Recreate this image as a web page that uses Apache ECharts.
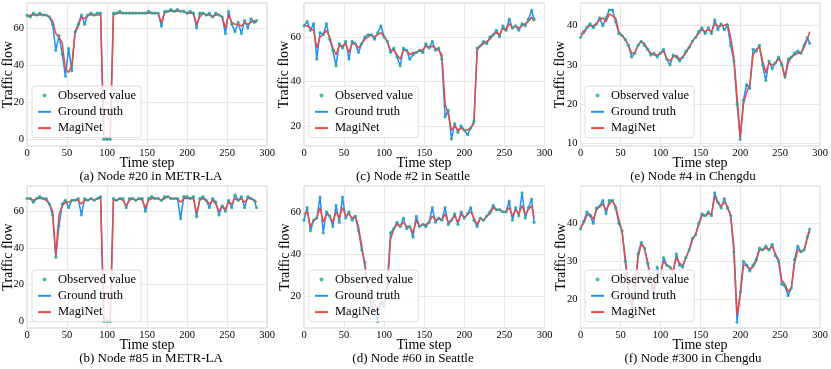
<!DOCTYPE html>
<html>
<head>
<meta charset="utf-8">
<title>Traffic flow prediction</title>
<script src="https://cdn.jsdelivr.net/npm/echarts@6/dist/echarts.min.js"></script>
<style>
html,body{margin:0;padding:0;background:#fff;}
#chart{width:831px;height:369px;}
</style>
</head>
<body>
<div id="chart"></div>
<script>
// time steps (sampled every 4 steps)
var timeSteps = [0,4,8,12,16,20,24,28, 32,36,40,44,48,52,56,60, 64,68,72,76,80,84,88,92,
	96,100,104,108,112,116,120,124, 128,132,136,140,144,148,152,156, 160,164,168,172,176,180,184,188,
	192,196,200,204,208,212,216,220, 224,228,232,236,240,244,248,252, 256,260,264,268,272,276,280,284, 287];
var xTicks = [0,50,100,150,200,250,300];

// (a) Node #20 in METR-LA
var truthA = [67,66,68,67,68,67,67,66, 62,48,56,46,34,49,37,58, 62,67,62,67,68,67,68,68,
	0,0,0,68,68,69,68,68, 68,68,68,68,68,68,69,68, 68,68,61,69,69,70,69,70,
	69,69,68,69,68,60,68,68, 67,68,66,68,67,66,57,69, 62,58,63,57,64,60,65,63, 64];
var magiA = [66,67,67,67,67,67,67,66, 64,57,55,52,38,36,40,57, 61,66,65,67,67,67,67,67,
	2,0,1,67,68,68,68,68, 68,68,68,68,68,68,68,68, 68,68,63,68,69,69,69,69,
	69,69,68,68,68,62,66,68, 67,67,66,67,67,66,60,67, 63,62,62,61,63,62,63,64, 63];
var ticksA = [0,20,40,60];

// (b) Node #85 in METR-LA
var truthB = [67,67,65,67,68,67,67,64, 58,35,52,64,66,62,66,66, 67,58,67,66,67,66,67,68,
	0,0,0,67,66,67,67,62, 67,67,66,67,67,60,67,68, 67,67,66,68,68,67,67,67,
	56,68,68,67,68,57,67,68, 66,62,67,65,58,63,60,66, 62,69,66,68,62,68,67,66, 62];
var magiB = [67,67,66,67,67,67,66,64, 60,36,58,63,65,65,66,66, 66,64,66,66,67,66,67,67,
	2,0,1,66,66,67,66,63, 66,67,66,67,66,62,66,67, 67,67,66,67,68,67,67,67,
	65,67,67,67,67,59,66,67, 66,64,66,64,60,63,61,65, 64,67,66,67,65,67,67,66, 65];
var ticksB = [0,20,40,60];

// (c) Node #2 in Seattle
var truthC = [65,67,63,66,50,62,61,66, 59,54,47,57,55,58,50,58, 57,53,57,60,61,61,59,62,
	65,60,58,53,55,51,47,55, 54,50,52,53,54,53,57,55, 58,54,55,50,24,27,14,21,
	17,20,18,16,19,22,55,56, 58,57,60,61,63,60,65,63, 68,64,65,63,66,65,68,72, 68];
var magiC = [65,65,64,63,55,60,61,63, 60,55,52,56,56,57,53,57, 57,55,57,59,60,61,60,61,
	62,60,58,54,54,52,50,54, 54,52,53,53,54,54,56,55, 56,55,54,52,30,25,18,20,
	18,19,18,18,19,21,54,56, 57,58,59,61,62,61,64,63, 66,64,65,64,65,66,67,69, 67];
var ticksC = [20,40,60];

// (d) Node #60 in Seattle
var truthD = [56,62,51,56,57,67,50,60, 58,53,63,55,67,57,60,56, 58,51,42,36,22,16,13,8,
	17,15,26,50,52,55,53,57, 52,53,48,58,53,54,53,55, 62,55,57,56,62,54,56,59,
	54,60,57,59,62,56,53,57, 56,58,60,63,61,61,60,60, 65,56,62,58,69,57,62,66, 55];
var magiD = [59,60,53,56,57,62,55,59, 58,55,60,57,62,58,59,57, 58,53,44,34,22,18,16,14,
	17,17,25,47,52,54,53,55, 53,53,50,56,53,54,54,55, 58,56,57,56,59,55,56,58,
	55,59,57,59,60,57,54,57, 56,58,59,62,61,61,60,60, 62,58,61,59,63,59,61,63, 57];
var ticksD = [20,40,60];

// (e) Node #4 in Chengdu
var truthE = [37,38.5,39.5,40.5,39.5,40.5,42,40, 42,44,44,41,38,37.5,36.5,35, 32,33,35,36,35,34,32.5,33,
	32,33,34,31.5,30,32.5,32,31, 32,33.5,34.5,36,37,38.5,39.5,38, 39.5,38,41.5,39,40.5,39,40,35,
	31,20,11,21,25,24,34,33.5, 35,30,26,31,29,30.5,32,30, 27,31.5,32,33,33.5,33,35,37, 35.5];
var magiE = [38,38,39.5,40,40,40.5,41.5,42, 41,43,42.5,42,38.5,37.5,36.5,35, 33,33,35,36,35.5,34,33,32.5,
	32.5,33,33.5,31.5,31,32,32.5,31.5, 32,33,34.5,36,37,38,39,38.5, 39,38.5,40.5,40,40,40,40.5,37,
	32,22,11.5,20,23,25,32.5,34, 34.5,31,28,30.5,30,30.5,31.5,30.5, 26.5,30.5,32,32.5,33,33,34.5,36.5, 38.5];
var ticksE = [10,20,30,40];

// (f) Node #300 in Chengdu
var truthF = [38.5,40.5,43,42,40,44,44.5,46, 42.5,46,46,44,40,38,30,22, 18,21,32,35,33.5,29.5,25,20,
	28.5,26,31,29,28.5,27,32,29, 28.5,31,33,36,37,40,42.5,42, 43,42,48,45.5,44,46.5,44,42,
	32.5,14,22,30,29,27.5,29,30.5, 33.5,33,34,33,34.5,31.5,30,24, 23.5,21,23,30.5,34,32.5,33,36.5, 38.5];
var magiF = [39,40,42,42.5,41,43.5,44.5,45, 43.5,45,46,44.5,41,38,31,23, 19,21,31,34.5,33.5,30,26,22,
	27,27,30,29,28.5,27.5,31,29.5, 29,31,33,35.5,37,39.5,42,42, 42.5,42.5,47,45.5,44.5,45.5,44.5,42,
	34,16,21,29,29,28,28.5,30, 33,33,33.5,33,34,32,30.5,25, 24,22,23,29.5,33,32.5,33,36, 38];
var ticksF = [20,30,40];

var FONT = "'Liberation Serif', 'DejaVu Serif', serif";
var GT_COLOR = '#1e90ff';
var MAGI_COLOR = '#f0483e';
var OBS_COLOR = '#21a697';
var LINE_ICON = 'path://M0,0H20V3H0Z';

// layout of the six sub-figures
var panels = [
	{truth:truthA, pred:magiA, ticks:ticksA, yMin:-3.6, yMax:73.5, caption:'(a) Node #20 in METR-LA',
		left:27, top:3, width:240, height:143, legendLeft:32, legendTop:86, nameX:8.5, stepX:147, capX:151},
	{truth:truthC, pred:magiC, ticks:ticksC, yMin:10.9, yMax:75.3, caption:'(c) Node #2 in Seattle',
		left:304, top:3, width:240.5, height:143, legendLeft:309, legendTop:86, nameX:284, stepX:424, capX:413},
	{truth:truthE, pred:magiE, ticks:ticksE, yMin:9.3, yMax:45.8, caption:'(e) Node #4 in Chengdu',
		left:580.5, top:3, width:241, height:143, legendLeft:585, legendTop:86, nameX:560.5, stepX:700, capX:693},
	{truth:truthB, pred:magiB, ticks:ticksB, yMin:-3.6, yMax:73.8, caption:'(b) Node #85 in METR-LA',
		left:27, top:186, width:240, height:142, legendLeft:32, legendTop:270, nameX:8, stepX:147, capX:151},
	{truth:truthD, pred:magiD, ticks:ticksD, yMin:5, yMax:72.2, caption:'(d) Node #60 in Seattle',
		left:304, top:186, width:240.5, height:142, legendLeft:309, legendTop:270, nameX:285, stepX:424, capX:413},
	{truth:truthF, pred:magiF, ticks:ticksF, yMin:12.5, yMax:49.8, caption:'(f) Node #300 in Chengdu',
		left:580.5, top:186, width:241, height:142, legendLeft:585, legendTop:270, nameX:561, stepX:700, capX:693}
];

function toPairs(values){
	var out = [];
	for(var i=0;i<values.length;i++){
		out.push([timeSteps[i], values[i]]);
	}
	return out;
}

function tickFormatter(list){
	return function(v){
		for(var i=0;i<list.length;i++){
			if(Math.abs(list[i]-v) < 1e-6) return String(list[i]);
		}
		return '';
	};
}

var grids = [], xAxes = [], yAxes = [], series = [], legends = [], texts = [];
for(var i=0;i<panels.length;i++){
	var p = panels[i];
	grids.push({left:p.left, top:p.top, width:p.width, height:p.height,
		show:true, borderColor:'#cfcfcf', borderWidth:1, backgroundColor:'#fff'});
	xAxes.push({
		gridIndex:i, type:'value', min:xTicks[0], max:xTicks[xTicks.length-1], interval:50,
		axisLine:{show:false}, axisTick:{show:false},
		axisLabel:{fontFamily:FONT, fontSize:10.5, color:'#000', margin:2},
		splitLine:{show:true, lineStyle:{color:'#e8e8e8', width:1}}
	});
	yAxes.push({
		gridIndex:i, type:'value', min:p.yMin, max:p.yMax, splitNumber:4,
		axisLine:{show:false}, axisTick:{show:false},
		axisLabel:{fontFamily:FONT, fontSize:10.5, color:'#000', margin:3, formatter:tickFormatter(p.ticks)},
		splitLine:{show:true, lineStyle:{color:'#e8e8e8', width:1}}
	});
	series.push({
		name:'Ground truth', type:'line', xAxisIndex:i, yAxisIndex:i, data:toPairs(p.truth),
		symbol:'none', lineStyle:{color:GT_COLOR, width:1.5}, itemStyle:{color:GT_COLOR}, z:2
	});
	series.push({
		name:'MagiNet', type:'line', xAxisIndex:i, yAxisIndex:i, data:toPairs(p.pred),
		symbol:'none', lineStyle:{color:MAGI_COLOR, width:1.5}, itemStyle:{color:MAGI_COLOR}, z:3
	});
	series.push({
		name:'Observed value', type:'scatter', xAxisIndex:i, yAxisIndex:i, data:toPairs(p.truth),
		symbolSize:3.2, itemStyle:{color:OBS_COLOR}, z:4
	});
	legends.push({
		left:p.legendLeft, top:p.legendTop, orient:'vertical', z:10, selectedMode:false,
		data:[
			{name:'Observed value', icon:'circle'},
			{name:'Ground truth', icon:LINE_ICON},
			{name:'MagiNet', icon:LINE_ICON}
		],
		itemWidth:13, itemHeight:4, itemGap:3.3,
		backgroundColor:'rgba(255,255,255,0.8)', borderColor:'#dedede', borderWidth:1, borderRadius:3,
		padding:[3,5,3,6],
		textStyle:{fontFamily:FONT, fontSize:12.5, color:'#000', lineHeight:13, padding:[0,0,0,2]}
	});
	var midY = p.top + p.height/2;
	var axisBottom = p.top + p.height;
	texts.push({type:'text', x:p.nameX, y:midY, rotation:Math.PI/2,
		style:{text:'Traffic flow', font:'14px ' + FONT, fill:'#000',
			align:'center', verticalAlign:'middle', textAlign:'center', textVerticalAlign:'middle'}});
	texts.push({type:'text', x:p.stepX, y:axisBottom + 17.5,
		style:{text:'Time step', font:'14px ' + FONT, fill:'#000',
			align:'center', verticalAlign:'middle', textAlign:'center', textVerticalAlign:'middle'}});
	texts.push({type:'text', x:p.capX, y:axisBottom + 31,
		style:{text:p.caption, font:'13px ' + FONT, fill:'#000',
			align:'center', verticalAlign:'middle', textAlign:'center', textVerticalAlign:'middle'}});
}

var chart = echarts.init(document.getElementById('chart'), null, {renderer:'canvas'});
chart.setOption({
	animation:false,
	backgroundColor:'#fff',
	grid:grids,
	xAxis:xAxes,
	yAxis:yAxes,
	legend:legends,
	series:series,
	graphic:texts
});
</script>
</body>
</html>
